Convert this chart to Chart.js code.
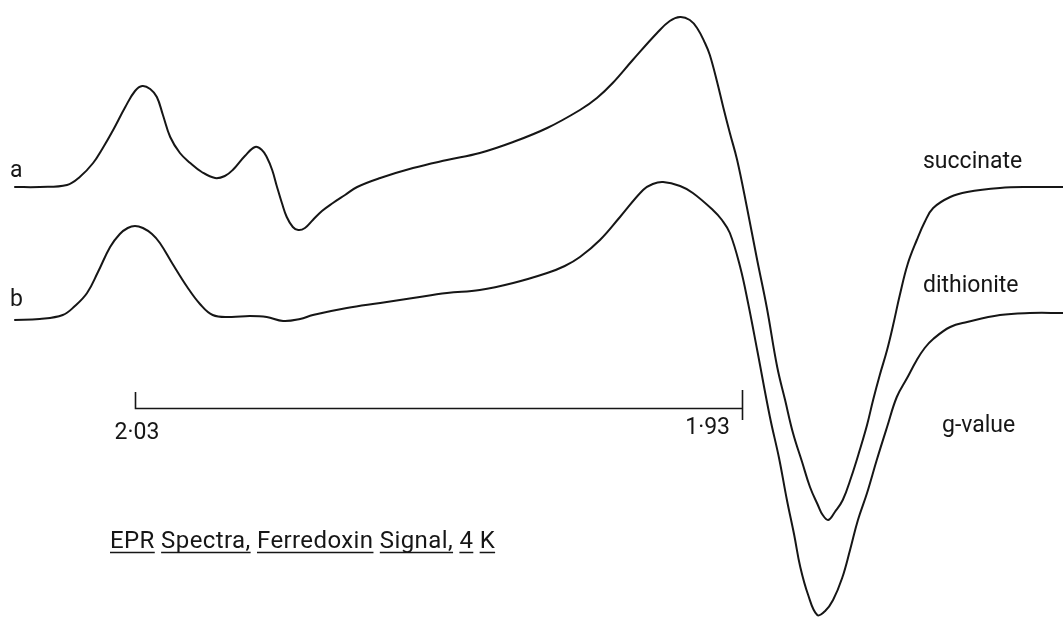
<!DOCTYPE html>
<html>
<head>
<meta charset="utf-8">
<title>EPR Spectra, Ferredoxin Signal, 4 K</title>
<script src="https://cdn.jsdelivr.net/npm/chart.js@4/dist/chart.umd.min.js"></script>
<style>
  html, body { margin: 0; padding: 0; background: #ffffff; }
  #wrap { width: 1063px; height: 617px; }
  canvas { display: block; }
</style>
</head>
<body>
<div id="wrap"><canvas id="epr" width="1063" height="617"></canvas></div>
<script>
// Trace a: succinate-reduced sample (g-value, derivative signal in arbitrary units)
const gA = [2.0499, 2.0457, 2.0412, 2.0391, 2.0369, 2.0353, 2.0336, 2.0316, 2.0300, 2.0288,
            2.0275, 2.0264, 2.0254, 2.0242, 2.0226, 2.0209, 2.0190, 2.0168, 2.0152, 2.0139,
            2.0119, 2.0102, 2.0091, 2.0083, 2.0074, 2.0066, 2.0058, 2.0050, 2.0040, 2.0031,
            2.0020, 2.0007, 1.9992, 1.9974, 1.9954, 1.9934, 1.9896, 1.9842, 1.9786, 1.9732,
            1.9677, 1.9621, 1.9567, 1.9539, 1.9513, 1.9480, 1.9440, 1.9419, 1.9402, 1.9386,
            1.9374, 1.9361, 1.9353, 1.9341, 1.9331, 1.9320, 1.9308, 1.9292, 1.9275, 1.9259,
            1.9242, 1.9229, 1.9216, 1.9201, 1.9188, 1.9175, 1.9167, 1.9158, 1.9147, 1.9134,
            1.9120, 1.9106, 1.9094, 1.9084, 1.9073, 1.9061, 1.9051, 1.9040, 1.9027, 1.9012,
            1.8999, 1.8985, 1.8957, 1.8929, 1.8875, 1.8826, 1.8771];
const signalA = [0, 0, 2, 10, 24, 39, 57, 80, 96, 101,
                 98, 90, 72, 50, 34, 24, 15, 9, 11, 17,
                 31, 40, 37, 30, 17, 0, -16, -30, -40, -43,
                 -41, -33, -24, -16, -8, 0, 9, 19, 27, 34,
                 45, 59, 77, 89, 104, 127, 154, 166, 170, 167,
                 159, 144, 132, 105, 80, 54, 27, -20, -73, -121,
                 -180, -213, -246, -275, -300, -318, -328, -333, -325, -313,
                 -290, -263, -238, -213, -188, -163, -138, -108, -77, -53,
                 -35, -21, -10, -5, -1, 0, 0];

// Trace b: dithionite-reduced sample
const gB = [2.0499, 2.0457, 2.0419, 2.0399, 2.0379, 2.0361, 2.0341, 2.0325, 2.0312, 2.0300,
            2.0287, 2.0272, 2.0259, 2.0239, 2.0214, 2.0193, 2.0172, 2.0143, 2.0111, 2.0083,
            2.0056, 2.0028, 2.0007, 1.9951, 1.9896, 1.9842, 1.9786, 1.9732, 1.9677, 1.9621,
            1.9592, 1.9567, 1.9534, 1.9501, 1.9463, 1.9447, 1.9430, 1.9402, 1.9381, 1.9348,
            1.9333, 1.9320, 1.9303, 1.9290, 1.9275, 1.9254, 1.9239, 1.9226, 1.9214, 1.9204,
            1.9191, 1.9176, 1.9163, 1.9150, 1.9135, 1.9122, 1.9109, 1.9094, 1.9078, 1.9061,
            1.9045, 1.9028, 1.9012, 1.8999, 1.8985, 1.8957, 1.8929, 1.8875, 1.8826, 1.8771];
const signalB = [0, 1, 5, 14, 27, 48, 73, 86, 92, 94,
                 92, 86, 77, 57, 33, 16, 5, 3, 4, 3,
                 -1, 1, 5, 12, 17, 22, 27, 30, 37, 47,
                 54, 63, 80, 103, 130, 136, 138, 134, 127, 110,
                 100, 87, 53, 17, -30, -97, -138, -180, -215, -247,
                 -275, -295, -291, -280, -258, -230, -200, -173, -140, -107,
                 -77, -58, -40, -28, -19, -7, -2, 5, 7, 7];

// g-value marks on the scale bar
const gMarks = [2.03, 1.93];
const gMarkLabels = ['2·03', '1·93'];

// Trace names
const traceLetters = ['a', 'b'];
const traceNames = ['succinate', 'dithionite'];
const axisName = 'g-value';
const caption = 'EPR Spectra, Ferredoxin Signal, 4 K';

// vertical stacking of the two traces (a.u.)
const stackOffset = [0, -133];

const INK = '#161616';
const FONT = '400 23px Roboto, "DejaVu Sans", sans-serif';
const CAPTION_FONT = '400 24px Roboto, "DejaVu Sans", sans-serif';

function toPoints(gs, sig, off) {
  return gs.map((g, i) => ({ x: g, y: sig[i] + off }));
}

const annotations = {
  id: 'eprAnnotations',
  afterDatasetsDraw(chart) {
    const ctx = chart.ctx;
    const xs = chart.scales.x;
    const ys = chart.scales.y;
    ctx.save();
    ctx.fillStyle = INK;
    ctx.strokeStyle = INK;
    ctx.font = FONT;
    ctx.textBaseline = 'alphabetic';

    // trace letters at the left end
    const left = xs.left + 10;
    ctx.textAlign = 'left';
    ctx.fillText(traceLetters[0], left, ys.getPixelForValue(10 + stackOffset[0]));
    ctx.fillText(traceLetters[1], left, ys.getPixelForValue(14 + stackOffset[1]));

    // sample names at the right
    const nameX = 923;
    ctx.fillText(traceNames[0], nameX, ys.getPixelForValue(19 + stackOffset[0]));
    ctx.fillText(traceNames[1], nameX, ys.getPixelForValue(28 + stackOffset[1]));
    ctx.fillText(axisName, 942, 432);

    // g-value scale bar
    const p0 = xs.getPixelForValue(gMarks[0]);
    const p1 = xs.getPixelForValue(gMarks[1]);
    const barY = 408.5;
    ctx.lineWidth = 1.6;
    ctx.beginPath();
    ctx.moveTo(Math.round(p0) + 0.5, 392);
    ctx.lineTo(Math.round(p0) + 0.5, barY);
    ctx.lineTo(Math.round(p1) + 0.5, barY);
    ctx.moveTo(Math.round(p1) + 0.5, 390);
    ctx.lineTo(Math.round(p1) + 0.5, 420);
    ctx.stroke();
    ctx.textAlign = 'center';
    ctx.fillText(gMarkLabels[0], p0 + 2, 439);
    ctx.textAlign = 'right';
    ctx.fillText(gMarkLabels[1], p1 - 12, 434);

    // caption with each word underlined separately
    ctx.textAlign = 'left';
    ctx.font = CAPTION_FONT;
    if ('letterSpacing' in ctx) ctx.letterSpacing = '0.4px';
    const capX = 110, capY = 548;
    ctx.fillText(caption, capX, capY);
    ctx.lineWidth = 1.5;
    let cursor = capX;
    const words = caption.split(' ');
    const space = ctx.measureText(' ').width;
    ctx.beginPath();
    words.forEach((w) => {
      const wWidth = ctx.measureText(w).width;
      ctx.moveTo(cursor, capY + 4.5);
      ctx.lineTo(cursor + wWidth, capY + 4.5);
      cursor += wWidth + space;
    });
    ctx.stroke();
    ctx.restore();
  }
};

const gLeft = 2.052241;   // g at the left edge of the plotting area
const gRight = 1.877117;  // g at the right edge

new Chart(document.getElementById('epr'), {
  type: 'line',
  data: {
    datasets: [
      { label: traceNames[0], data: toPoints(gA, signalA, stackOffset[0]) },
      { label: traceNames[1], data: toPoints(gB, signalB, stackOffset[1]) }
    ]
  },
  options: {
    responsive: false,
    animation: false,
    layout: { padding: 0 },
    elements: {
      line: { borderColor: INK, borderWidth: 2, tension: 0.4, fill: false },
      point: { radius: 0, hoverRadius: 0 }
    },
    datasets: { line: { clip: false } },
    scales: {
      x: { type: 'linear', reverse: true, min: gRight, max: gLeft, display: false },
      y: { type: 'linear', min: -430, max: 187, display: false }
    },
    plugins: { legend: { display: false }, tooltip: { enabled: false } }
  },
  plugins: [annotations]
});
</script>
</body>
</html>
